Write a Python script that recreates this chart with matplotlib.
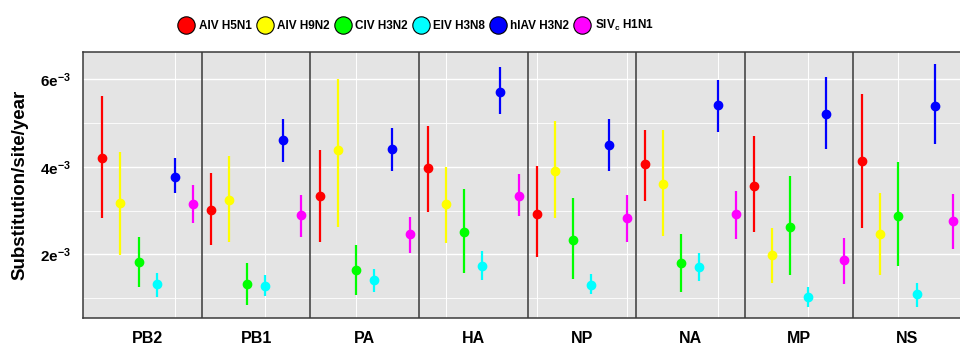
import numpy as np
import matplotlib
matplotlib.use("Agg")
import matplotlib.pyplot as plt
from matplotlib.lines import Line2D

plt.rcParams['font.family'] = ['Liberation Sans', 'DejaVu Sans']
plt.rcParams['mathtext.fontset'] = 'custom'
plt.rcParams['mathtext.rm'] = 'Liberation Sans'
plt.rcParams['mathtext.bf'] = 'Liberation Sans:bold'

# values in units of 1e-3 substitution/site/year
segments = ['PB2', 'PB1', 'PA', 'HA', 'NP', 'NA', 'MP', 'NS']
lineages = ['AIV H5N1', 'AIV H9N2', 'CIV H3N2', 'EIV H3N8', 'hIAV H3N2', 'SIVc H1N1']
labels = ['AIV H5N1', 'AIV H9N2', 'CIV H3N2', 'EIV H3N8', 'hIAV H3N2', r'SIV$_\mathbf{c}$ H1N1']
colors = ['#FF0000', '#FFFF00', '#00FF00', '#00FFFF', '#0000FF', '#FF00FF']

h5n1_mean = [4.19, 3.01, 3.33, 3.97, 2.92, 4.06, 3.56, 4.13]
h5n1_low = [2.82, 2.21, 2.27, 2.97, 1.93, 3.21, 2.51, 2.59]
h5n1_high = [5.62, 3.85, 4.38, 4.94, 4.01, 4.83, 4.71, 5.66]

h9n2_mean = [3.18, 3.24, 4.38, 3.16, 3.91, 3.60, 1.98, 2.46]
h9n2_low = [1.98, 2.29, 2.63, 2.25, 2.82, 2.42, 1.34, 1.52]
h9n2_high = [4.33, 4.25, 6.01, 3.99, 5.05, 4.84, 2.61, 3.39]

civ_mean = [1.82, 1.31, 1.63, 2.50, 2.33, 1.79, 2.62, 2.88]
civ_low = [1.24, 0.83, 1.07, 1.58, 1.44, 1.13, 1.53, 1.72]
civ_high = [2.39, 1.79, 2.21, 3.49, 3.28, 2.46, 3.80, 4.10]

eiv_mean = [1.31, 1.28, 1.40, 1.74, 1.30, 1.70, 1.02, 1.08]
eiv_low = [1.03, 1.05, 1.13, 1.40, 1.09, 1.38, 0.79, 0.80]
eiv_high = [1.58, 1.53, 1.66, 2.08, 1.54, 2.02, 1.26, 1.35]

hiav_mean = [3.76, 4.61, 4.41, 5.72, 4.50, 5.41, 5.20, 5.39]
hiav_low = [3.39, 4.10, 3.90, 5.20, 3.90, 4.80, 4.41, 4.51]
hiav_high = [4.20, 5.09, 4.89, 6.27, 5.09, 5.98, 6.06, 6.34]

siv_mean = [3.15, 2.90, 2.46, 3.33, 2.82, 2.91, 1.86, 2.77]
siv_low = [2.71, 2.40, 2.02, 2.88, 2.29, 2.34, 1.31, 2.12]
siv_high = [3.58, 3.35, 2.86, 3.83, 3.36, 3.45, 2.38, 3.37]

means = [h5n1_mean, h9n2_mean, civ_mean, eiv_mean, hiav_mean, siv_mean]
lows = [h5n1_low, h9n2_low, civ_low, eiv_low, hiav_low, siv_low]
highs = [h5n1_high, h9n2_high, civ_high, eiv_high, hiav_high, siv_high]

fig = plt.figure(figsize=(9.6, 3.45), dpi=100)
ax = fig.add_axes([0.0865, 0.078, 0.9135, 0.772])
ax.set_facecolor('#E4E4E4')

n = len(lineages)
for j in range(n):
    x = np.arange(len(segments)) * n + j
    m = np.array(means[j])
    lo = np.array(lows[j])
    hi = np.array(highs[j])
    ax.vlines(x, lo, hi, color=colors[j], lw=1.6, zorder=3)
    ax.plot(x, m, 'o', color=colors[j], ms=6, zorder=4)

# grid
for v in [1, 3, 5]:
    ax.axhline(v, color='white', lw=0.6, zorder=1)
for v in [2, 4, 6]:
    ax.axhline(v, color='white', lw=1.0, zorder=1)
for v in np.arange(4, 48, 5):
    ax.axvline(v, color='white', lw=0.7, zorder=1)

# panel dividers
for i in range(1, len(segments)):
    ax.axvline(i * n - 0.5, color='#3A3A3A', lw=1.1, zorder=2)

ax.set_xlim(-1.07, 47.4)
ax.set_ylim(0.54, 6.63)
ax.set_yticks([2, 4, 6])
ax.set_yticklabels([r'$\mathbf{%de^{-3}}$' % v for v in [2, 4, 6]], fontsize=11)
ax.set_xticks(np.arange(len(segments)) * n + 2.5)
ax.set_xticklabels(segments, fontsize=11.5, fontweight='bold')
ax.tick_params(axis='both', length=0, colors='black')
ax.tick_params(axis='y', pad=9)
ax.tick_params(axis='x', pad=9)
for s in ['left', 'top', 'bottom']:
    ax.spines[s].set_color('#3A3A3A')
    ax.spines[s].set_linewidth(1.1)
ax.spines['right'].set_visible(False)

ax.set_ylabel('Substitution/site/year', fontsize=13.5, fontweight='bold', labelpad=8)

handles = [Line2D([], [], ls='none', marker='o', ms=12.5, markerfacecolor=c,
                  markeredgecolor='black', markeredgewidth=0.8) for c in colors]
fig.legend(handles, labels, loc='center', bbox_to_anchor=(0.433, 0.925), ncol=6,
           frameon=False, handletextpad=0.3, columnspacing=0.35, handlelength=1.5,
           prop={'weight': 'bold', 'size': 8.5})

fig.savefig('out.png', dpi=100)
